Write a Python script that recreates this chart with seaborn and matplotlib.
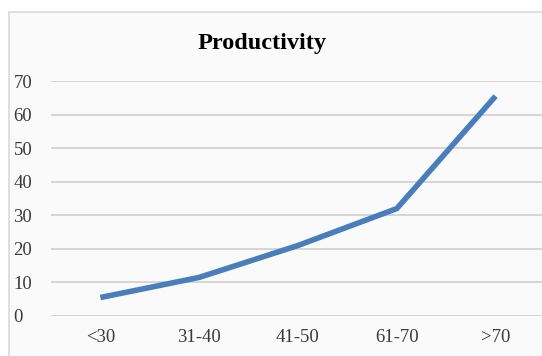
import numpy as np
import pandas as pd
import matplotlib.pyplot as plt
import seaborn as sns
from matplotlib.patches import Rectangle

age_groups = ['<30', '31-40', '41-50', '61-70', '>70']
productivity = [5.5, 11.5, 21, 32, 65.5]
y_ticks = [0, 10, 20, 30, 40, 50, 60, 70]

df = pd.DataFrame({'age': age_groups, 'productivity': productivity})

sns.set_style('white')
plt.rcParams['font.family'] = ['Liberation Serif', 'DejaVu Serif']

fig = plt.figure(figsize=(5.42, 3.56), dpi=100)
fig.patch.set_facecolor('white')

# chart frame (behind the axes)
fig.patches.append(Rectangle((9 / 542, -0.1), 1.0, (356 - 12) / 356 + 0.1,
                             transform=fig.transFigure, facecolor='#fafafa',
                             edgecolor='#d9d9d9', linewidth=1.2, zorder=-5))

ax = fig.add_axes([51 / 542, 40 / 356, 494 / 542, 235 / 356])
ax.set_facecolor('none')
ax.set_zorder(1)

sns.lineplot(data=df, x='age', y='productivity', ax=ax, color='#4a7ebb',
             linewidth=4, sort=False, solid_capstyle='butt')

ax.set_xlim(-0.5, 4.5)
ax.set_ylim(0, 70)
ax.set_yticks(y_ticks)
ax.yaxis.grid(True, color='#d6d6d6', linewidth=1.4)
ax.set_axisbelow(True)
for s in ax.spines.values():
    s.set_visible(False)
ax.set_xlabel('')
ax.set_ylabel('')
ax.tick_params(axis='y', length=0, pad=27, labelsize=13.5, labelcolor='#3a3a3a')
ax.tick_params(axis='x', length=0, pad=9, labelsize=13.5, labelcolor='#3a3a3a')
for lab in ax.get_yticklabels():
    lab.set_horizontalalignment('left')

fig.text(262 / 542, 1 - 43 / 356, 'Productivity', ha='center', va='center',
         fontsize=17.5, fontweight='bold', color='black')

fig.savefig('out.png', dpi=100)
